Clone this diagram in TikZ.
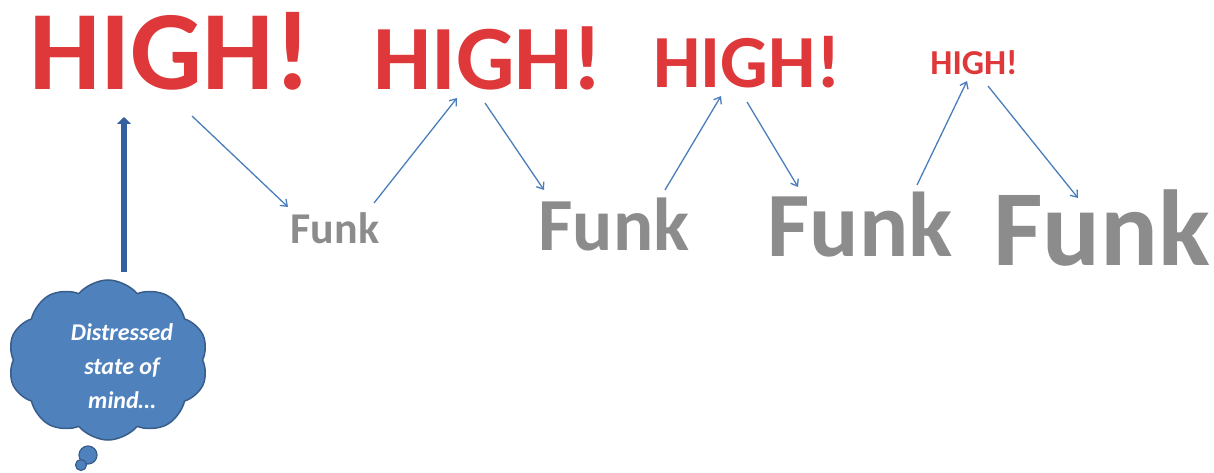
\documentclass[tikz,border=0pt]{standalone}
\usepackage{fontspec}
\setmainfont{Carlito}
\usetikzlibrary{arrows.meta,shapes.symbols}
\definecolor{highred}{RGB}{222,56,58}
\definecolor{funkgray}{RGB}{140,140,140}
\definecolor{arrowblue}{RGB}{74,126,187}
\definecolor{thickblue}{RGB}{52,96,160}
\definecolor{cloudfill}{RGB}{79,129,189}
\definecolor{cloudline}{RGB}{56,93,138}
\tikzset{
  high/.style={anchor=base,inner sep=0pt,text=highred,font=\bfseries\fontsize{#1}{#1}\selectfont},
  funk/.style={anchor=base,inner sep=0pt,text=funkgray,font=\bfseries\fontsize{#1}{#1}\selectfont},
  thin arrow/.style={draw=arrowblue,line width=1.3pt,-{Straight Barb[length=6pt,width=9pt]}},
  thick arrow/.style={draw=thickblue,line width=5.5pt,-{Triangle[length=7pt,width=14pt]}},
  cloudbox/.style={cloud,cloud puffs=10,cloud puff arc=100,aspect=1.35,fill=cloudfill,draw=cloudline,line width=1.5pt,minimum width=200pt,minimum height=160pt,inner sep=0pt},
  bubble/.style={circle,fill=cloudfill,draw=cloudline,line width=1.2pt,inner sep=0pt},
  thoughttext/.style={text=white,align=center,font=\bfseries\itshape\fontsize{24}{34}\selectfont}
}
\begin{document}
\begin{tikzpicture}[x=1pt,y=-1pt]
\useasboundingbox (0,0) rectangle (1214,473);
% HIGH! words
\node[high=113] (h1) at (170,90) {HIGH!};
\node[high=92] (h2) at (488,90) {HIGH!};
\node[high=75] (h3) at (747,88) {HIGH!};
\node[high=35] (h4) at (974,75) {HIGH!};
% Funk words
\node[funk=44] (f1) at (335,243) {Funk};
\node[funk=75] (f2) at (614,250) {Funk};
\node[funk=92] (f3) at (860,256) {Funk};
\node[funk=108] (f4) at (1102,265) {Funk};
% cloud
\node[cloudbox] (cloud) at (108,360) {};
\node[bubble,minimum size=18pt] (b1) at (88,455) {};
\node[bubble,minimum size=11pt] (b2) at (81,465) {};
\node[thoughttext] (thought) at (122,366) {Distressed\\state of\\mind…};
% arrow endpoints
\coordinate (v1) at (124,272);
\coordinate (v2) at (124,117);
\coordinate (a1s) at (192,116);
\coordinate (a1e) at (288,207);
\coordinate (a2s) at (374,203);
\coordinate (a2e) at (457,98);
\coordinate (a3s) at (485,103);
\coordinate (a3e) at (544,190);
\coordinate (a4s) at (665,190);
\coordinate (a4e) at (721,96);
\coordinate (a5s) at (747,102);
\coordinate (a5e) at (798,187);
\coordinate (a6s) at (917,185);
\coordinate (a6e) at (967,81);
\coordinate (a7s) at (988,86);
\coordinate (a7e) at (1078,198);
% arrows
\draw[thick arrow] (v1) -- (v2);
\draw[thin arrow] (a1s) -- (a1e);
\draw[thin arrow] (a2s) -- (a2e);
\draw[thin arrow] (a3s) -- (a3e);
\draw[thin arrow] (a4s) -- (a4e);
\draw[thin arrow] (a5s) -- (a5e);
\draw[thin arrow] (a6s) -- (a6e);
\draw[thin arrow] (a7s) -- (a7e);
\end{tikzpicture}
\end{document}
